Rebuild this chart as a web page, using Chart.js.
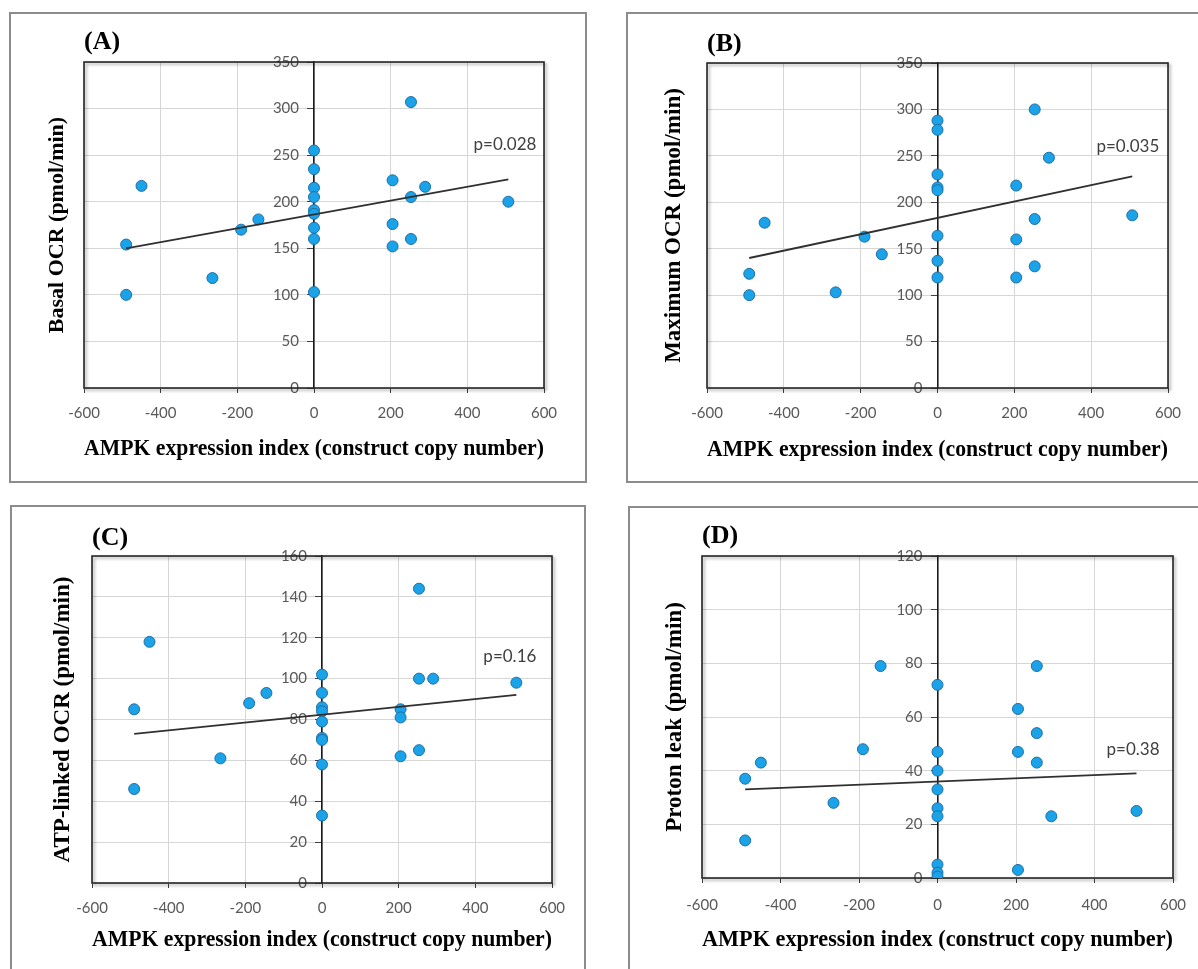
<!DOCTYPE html>
<html>
<head>
<meta charset="utf-8">
<script src="https://cdn.jsdelivr.net/npm/chart.js@4.4.1/dist/chart.umd.min.js"></script>
<style>
  html, body { margin: 0; padding: 0; background: #ffffff; overflow: hidden; }
  body { width: 1198px; height: 969px; position: relative; }
  .frame { position: absolute; border: 2px solid #8c8c8c; box-sizing: border-box; }
  canvas { position: absolute; }
</style>
</head>
<body>
<div class="frame" style="left:9px;top:12px;width:578px;height:471px;"></div>
<div class="frame" style="left:626px;top:12px;width:600px;height:471px;"></div>
<div class="frame" style="left:10px;top:505px;width:576px;height:500px;"></div>
<div class="frame" style="left:628px;top:506px;width:600px;height:500px;"></div>
<canvas id="cA" width="574" height="467" style="left:11px;top:14px;"></canvas>
<canvas id="cB" width="574" height="467" style="left:628px;top:14px;"></canvas>
<canvas id="cC" width="572" height="462" style="left:12px;top:507px;"></canvas>
<canvas id="cD" width="574" height="461" style="left:630px;top:508px;"></canvas>
<script>
// ---------------- data ----------------
const xTitle = 'AMPK expression index (construct copy number)';
const panelLabels = ['(A)', '(B)', '(C)', '(D)'];
const yTitles = ['Basal OCR (pmol/min)', 'Maximum OCR (pmol/min)', 'ATP-linked OCR (pmol/min)', 'Proton leak (pmol/min)'];
const pLabels = ['p=0.028', 'p=0.035', 'p=0.16', 'p=0.38'];
const xTicks = [-600, -400, -200, 0, 200, 400, 600];
const yMaxes = [350, 350, 160, 120];
const ySteps = [50, 50, 20, 20];

const xA = [-490, -490, -450, -265, -190, -145, 0, 0, 0, 0, 0, 0, 0, 0, 0, 205, 205, 205, 253, 253, 253, 290, 507];
const yA = [154, 100, 217, 118, 170, 181, 255, 235, 215, 205, 191, 187, 172, 160, 103, 223, 176, 152, 307, 205, 160, 216, 200];

const xB = [-490, -490, -450, -265, -190, -145, 0, 0, 0, 0, 0, 0, 0, 0, 205, 205, 205, 253, 253, 253, 290, 507];
const yB = [123, 100, 178, 103, 163, 144, 288, 278, 230, 216, 213, 164, 137, 119, 218, 160, 119, 300, 182, 131, 248, 186];

const xC = [-490, -490, -450, -265, -190, -145, 0, 0, 0, 0, 0, 0, 0, 0, 0, 205, 205, 205, 253, 253, 253, 290, 507];
const yC = [85, 46, 118, 61, 88, 93, 102, 93, 86, 84, 79, 71, 70, 58, 33, 85, 81, 62, 144, 100, 65, 100, 98];

const xD = [-490, -490, -450, -265, -190, -145, 0, 0, 0, 0, 0, 0, 0, 0, 0, 205, 205, 205, 253, 253, 253, 290, 507];
const yD = [37, 14, 43, 28, 48, 79, 72, 47, 40, 33, 26, 23, 5, 2, 0.5, 63, 47, 3, 79, 54, 43, 23, 25];

// trend line end points
const trendX = [-490, 507];
const trendA = [150, 224];
const trendB = [140, 228];
const trendC = [73, 92];
const trendD = [33, 39];

// ---------------- styling / layout ----------------
const SERIF = "'Liberation Serif', 'Times New Roman', serif";
const SANS = "Lato, 'Open Sans', sans-serif";

const layouts = [
  { id: 'cA', w: 574, h: 467, L: 73, R: 533, T: 48, B: 374, labelMid: 28, yTitleX: 46, xTitleBelow: 61, yFont: 22, xPad: 11, pdx: 28, pdy: -35 },
  { id: 'cB', w: 574, h: 467, L: 79, R: 540, T: 49, B: 374, labelMid: 30, yTitleX: 46, xTitleBelow: 62, yFont: 23, xPad: 11, pdx: 27, pdy: -30 },
  { id: 'cC', w: 572, h: 462, L: 80, R: 540, T: 49, B: 376, labelMid: 31, yTitleX: 51, xTitleBelow: 57, yFont: 23, xPad: 11, pdx: 20, pdy: -38 },
  { id: 'cD', w: 574, h: 461, L: 72, R: 543, T: 48, B: 370, labelMid: 28, yTitleX: 45, xTitleBelow: 62, yFont: 23, xPad: 13, pdx: 23, pdy: -24 }
];

const frameAndLabel = {
  id: 'frameAndLabel',
  beforeDatasetsDraw(chart) {
    const { ctx, chartArea: a } = chart;
    ctx.save();
    ctx.shadowColor = 'rgba(0,0,0,0.35)';
    ctx.shadowBlur = 3;
    ctx.shadowOffsetX = 2;
    ctx.shadowOffsetY = 2;
    ctx.strokeStyle = '#262626';
    ctx.lineWidth = 1.6;
    ctx.strokeRect(a.left, a.top, a.right - a.left, a.bottom - a.top);
    ctx.restore();
  },
  afterDatasetsDraw(chart, args, opts) {
    const meta = chart.getDatasetMeta(0);
    const end = meta.data[meta.data.length - 1];
    if (!end) return;
    const ctx = chart.ctx;
    ctx.save();
    ctx.font = "17px " + SANS;
    ctx.fillStyle = '#404040';
    ctx.textAlign = 'right';
    ctx.textBaseline = 'middle';
    ctx.fillText(opts.text, end.x + opts.dx, end.y + opts.dy);
    ctx.restore();
  }
};

function makeChart(i, xs, ys, trendY) {
  const Lc = layouts[i];
  const pts = xs.map((x, k) => ({ x: x, y: ys[k] }));
  const trend = trendX.map((x, k) => ({ x: x, y: trendY[k] }));
  const titleLH = 26 * 1.2;
  const titlePadTop = Lc.labelMid - titleLH / 2;
  const titlePadBottom = Lc.T - Lc.labelMid - titleLH / 2;
  const xAxisH = Lc.h - Lc.B;
  const xTitleLH = 23 * 1.2;
  const xTitlePadBottom = xAxisH - xTitleLH / 2 - Lc.xTitleBelow;
  const yTitleLH = Lc.yFont * 1.2;
  const yTitlePadTop = Lc.yTitleX - yTitleLH / 2;

  new Chart(document.getElementById(Lc.id), {
    type: 'scatter',
    data: {
      datasets: [
        {
          type: 'line',
          label: 'trend',
          data: trend,
          borderColor: '#303030',
          borderWidth: 1.8,
          pointRadius: 0,
          fill: false,
          order: 0,
          yAxisID: 'y'
        },
        {
          label: 'samples',
          data: pts,
          backgroundColor: '#1aa3e8',
          borderColor: '#1f6ea3',
          borderWidth: 1,
          pointRadius: 5.5,
          order: 1,
          yAxisID: 'y'
        }
      ]
    },
    options: {
      responsive: false,
      animation: false,
      devicePixelRatio: 1,
      layout: { padding: { top: 0, left: 0, right: Lc.w - Lc.R, bottom: 0 } },
      plugins: {
        legend: { display: false },
        tooltip: { enabled: false },
        title: {
          display: true,
          text: panelLabels[i],
          align: 'start',
          fullSize: false,
          color: '#000000',
          font: { family: SERIF, size: 26, weight: 'bold', lineHeight: 1.2 },
          padding: { top: titlePadTop, bottom: titlePadBottom }
        },
        frameAndLabel: { text: pLabels[i], dx: Lc.pdx, dy: Lc.pdy }
      },
      scales: {
        x: {
          type: 'linear',
          position: 'bottom',
          min: -600,
          max: 600,
          afterBuildTicks: (s) => { s.ticks = xTicks.map(v => ({ value: v })); },
          afterFit: (s) => { s.height = xAxisH; },
          border: { display: false },
          grid: {
            color: '#d6d6d6',
            lineWidth: 1,
            borderDash: [2, 2],
            drawTicks: true,
            tickLength: 5,
            tickColor: '#404040',
            tickBorderDash: [],
            tickWidth: 1
          },
          ticks: { color: '#595959', font: { family: SANS, size: 15 }, padding: Lc.xPad, maxRotation: 0 },
          title: {
            display: true,
            text: xTitle,
            color: '#000000',
            font: { family: SERIF, size: 23, weight: 'bold', lineHeight: 1.2 },
            padding: { top: 0, bottom: xTitlePadBottom }
          }
        },
        y: {
          type: 'linear',
          position: { x: 0 },
          min: 0,
          max: yMaxes[i],
          ticks: {
            stepSize: ySteps[i],
            color: '#595959',
            font: { family: SANS, size: 15 },
            // gap between the label and the axis line at x = 0
            callback: (v) => v + '\u2002\u2002'
          },
          border: { display: true, color: '#1a1a1a', width: 1.6 },
          grid: {
            color: '#d6d6d6',
            lineWidth: 1,
            borderDash: [2, 2],
            drawTicks: true,
            tickLength: 6,
            tickColor: '#404040',
            tickBorderDash: [],
            tickWidth: 1
          }
        },
        yT: {
          type: 'linear',
          position: 'left',
          min: 0,
          max: yMaxes[i],
          afterFit: (s) => { s.width = Lc.L; },
          ticks: { display: false },
          grid: { display: false, drawTicks: false },
          border: { display: false },
          title: {
            display: true,
            text: yTitles[i],
            color: '#000000',
            font: { family: SERIF, size: Lc.yFont, weight: 'bold', lineHeight: 1.2 },
            padding: { top: yTitlePadTop, bottom: 0 }
          }
        }
      }
    },
    plugins: [frameAndLabel]
  });
}

makeChart(0, xA, yA, trendA);
makeChart(1, xB, yB, trendB);
makeChart(2, xC, yC, trendC);
makeChart(3, xD, yD, trendD);
</script>
</body>
</html>
